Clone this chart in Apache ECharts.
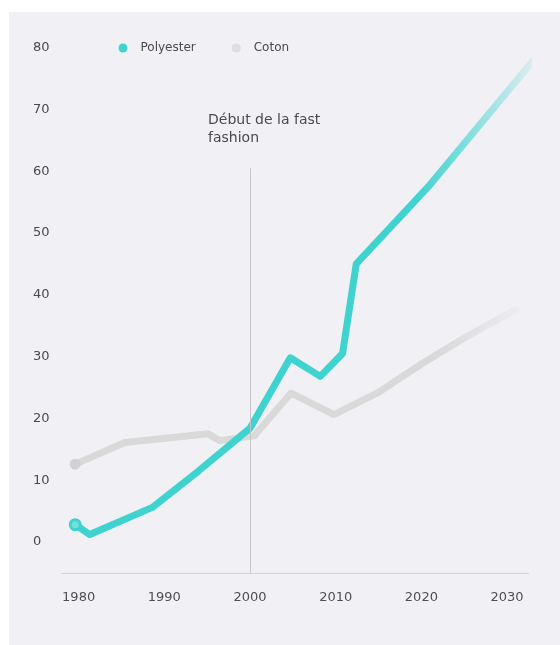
<!DOCTYPE html>
<html>
<head>
<meta charset="utf-8">
<script src="https://cdn.jsdelivr.net/npm/echarts@6/dist/echarts.min.js"></script>
<style>
  html, body { margin: 0; padding: 0; background: #ffffff; }
  #panel { position: absolute; left: 9px; top: 12px; width: 551px; height: 633px; background: #f1f0f5; }
  #chart { position: absolute; left: 0; top: 0; width: 560px; height: 645px; }
</style>
</head>
<body>
<div id="panel"></div>
<div id="chart"></div>
<script>
// ---- Data ----
const seriesNames = ['Polyester', 'Coton'];
const polyesterYears  = [1979.6, 1981.3, 1988.6, 1994.0, 2000.0, 2004.7, 2008.2, 2010.8, 2012.4, 2021.0, 2033.4];
const polyesterValues = [2.8,    1.2,    5.6,    11.5,   18.4,   29.8,   26.8,   30.5,   45.0,   57.8,   78.5];
const cotonYears  = [1979.6, 1985.4, 1995.1, 1996.5, 2000.5, 2004.8, 2009.8, 2015.0, 2020.0, 2025.0, 2031.0];
const cotonValues = [12.6,   16.1,   17.5,   16.4,   17.2,   24.1,   20.6,   24.2,   28.8,   33.0,   37.6];
const xTicks = [1980, 1990, 2000, 2010, 2020, 2030];
const yTicks = [0, 10, 20, 30, 40, 50, 60, 70, 80];
const annotationYear = 2000;
const annotationText = 'Début de la fast\nfashion';

const TEAL = '#3fd3cf';
const GRAY = '#d9d9d9';
const FONT = 'DejaVu Sans';

function toPairs(xs, ys, firstStyle) {
  return xs.map((x, i) => {
    if (i === 0) {
      return { value: [x, ys[i]], symbol: 'circle', symbolSize: firstStyle.size, itemStyle: firstStyle.itemStyle };
    }
    return { value: [x, ys[i]], symbol: 'none' };
  });
}

const chart = echarts.init(document.getElementById('chart'), null, { renderer: 'canvas' });

const option = {
  backgroundColor: 'transparent',
  animation: false,
  grid: { left: 61.5, right: 31.5, top: 47.6, bottom: 72.1 },
  legend: {
    left: 113.5,
    top: 37,
    itemWidth: 9,
    itemHeight: 9,
    itemGap: 36,
    icon: 'circle',
    textStyle: { fontFamily: FONT, fontSize: 12, color: '#4a4a4a', padding: [0, 0, 0, 8] },
    data: [
      { name: seriesNames[0], itemStyle: { color: TEAL } },
      { name: seriesNames[1], itemStyle: { color: '#dedede' } }
    ]
  },
  xAxis: {
    type: 'value',
    min: 1978,
    max: 2032.5,
    axisLine: { show: true, onZero: false, lineStyle: { color: '#d4d4d8', width: 1 } },
    axisTick: { show: false },
    splitLine: { show: false },
    axisLabel: {
      customValues: xTicks,
      margin: 18,
      fontFamily: FONT,
      fontSize: 13,
      color: '#4f4f4f',
      formatter: v => String(v)
    }
  },
  yAxis: {
    type: 'value',
    min: -5,
    max: 80,
    axisLine: { show: false },
    axisTick: { show: false },
    splitLine: { show: false },
    axisLabel: {
      customValues: yTicks,
      align: 'left',
      margin: 28.5,
      fontFamily: FONT,
      fontSize: 13,
      color: '#4a4a4a'
    }
  },
  series: [
    {
      name: 'annotation',
      type: 'line',
      data: [],
      z: 1,
      silent: true,
      markLine: {
        silent: true,
        symbol: 'none',
        label: { show: false },
        lineStyle: { color: '#c6c6ca', width: 1, type: 'solid' },
        data: [[{ coord: [annotationYear, -5] }, { coord: [annotationYear, 60.5] }]]
      },
      markPoint: {
        silent: true,
        symbol: 'circle',
        symbolSize: 0,
        data: [{ coord: [annotationYear, 60.5] }],
        label: {
          show: true,
          position: 'inside',
          formatter: annotationText,
          align: 'left',
          verticalAlign: 'middle',
          offset: [-42, -39],
          fontFamily: FONT,
          fontSize: 14,
          lineHeight: 18.5,
          color: '#4a4a4a'
        }
      }
    },
    {
      name: seriesNames[1],
      type: 'line',
      z: 2,
      clip: false,
      showSymbol: true,
      data: toPairs(cotonYears, cotonValues, { size: 11, itemStyle: { color: '#d2d2d2', borderWidth: 0 } }),
      lineStyle: {
        width: 7,
        cap: 'round',
        join: 'round',
        color: new echarts.graphic.LinearGradient(0, 0, 1, 0, [
          { offset: 0, color: 'rgba(217,217,217,1)' },
          { offset: 0.82, color: 'rgba(217,217,217,1)' },
          { offset: 1, color: 'rgba(217,217,217,0.15)' }
        ])
      },
      itemStyle: { color: GRAY }
    },
    {
      name: seriesNames[0],
      type: 'line',
      z: 3,
      clip: false,
      showSymbol: true,
      data: toPairs(polyesterYears, polyesterValues, { size: 10, itemStyle: { color: '#6fe0dc', borderColor: TEAL, borderWidth: 3 } }),
      lineStyle: {
        width: 7,
        cap: 'round',
        join: 'round',
        color: new echarts.graphic.LinearGradient(0, 0, 1, 0, [
          { offset: 0, color: 'rgba(63,211,207,1)' },
          { offset: 0.74, color: 'rgba(63,211,207,1)' },
          { offset: 0.88, color: 'rgba(63,211,207,0.5)' },
          { offset: 1, color: 'rgba(63,211,207,0.06)' }
        ])
      },
      itemStyle: { color: TEAL }
    }
  ]
};

chart.setOption(option);
</script>
</body>
</html>
